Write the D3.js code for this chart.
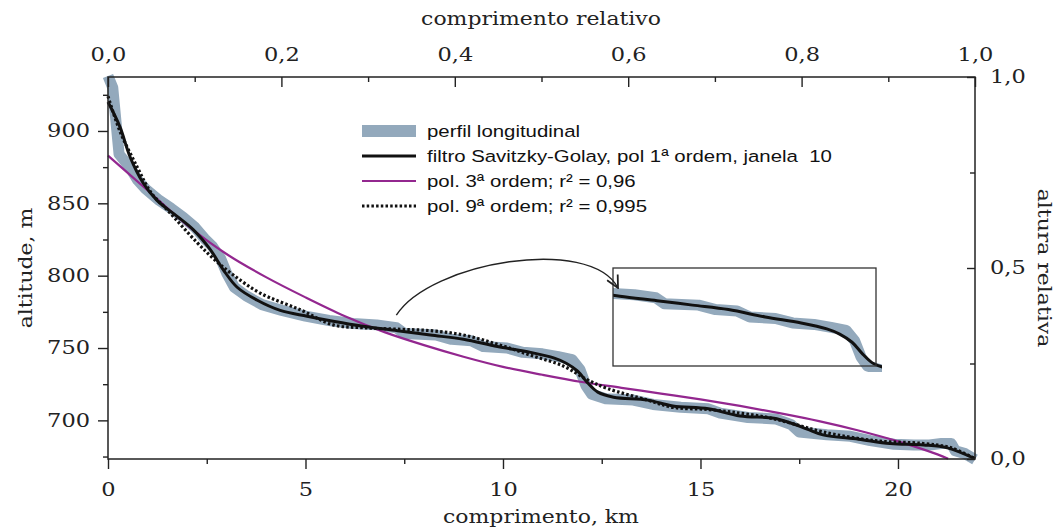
<!DOCTYPE html>
<html>
<head>
<meta charset="utf-8">
<script src="https://cdn.jsdelivr.net/npm/d3@7"></script>
<style>
  body { margin: 0; background: #fff; }
  .tick line { stroke: #222; stroke-width: 1.4; }
  .tick text { font-family: "DejaVu Serif", serif; font-size: 18px; fill: #222; }
  .title { font-family: "DejaVu Serif", serif; font-size: 18px; fill: #222; }
  .leg { font-family: "Liberation Sans", Arial, sans-serif; font-size: 17px; fill: #111; white-space: pre; }
</style>
</head>
<body>
<div id="vis"></div>
<script>
// values
// Savitzky-Golay filtered profile (km, m)
var sgKm  = [0, 0.3, 0.56, 0.89, 1.24, 1.75, 2.15, 2.59, 2.92, 3.27, 3.78, 4.36, 5.04, 5.7, 6.46, 7.33, 8.16, 9.0, 9.86, 10.7, 11.3, 11.6, 11.89, 12.14, 12.4, 12.8, 13.66, 14.3, 15.2, 16.0, 16.86, 17.3, 17.7, 18.1, 19.0, 19.8, 20.65, 21.25, 21.95];
var sgAlt = [920, 903, 882, 864, 852, 841, 832, 818, 804, 792, 783, 776, 772, 768.5, 765, 762, 759, 756, 751, 747, 743, 739.5, 734, 726, 719.5, 716, 714, 710, 708, 703, 701.5, 698, 694, 690, 687, 684, 683, 681, 673.5];

// raw longitudinal profile (stepped)
var profKm  = [0, 0.12, 0.28, 0.55, 0.75, 0.95, 1.3, 1.6, 1.9, 2.2, 2.45, 2.65, 2.85, 3.0, 3.2, 3.5, 3.9, 4.4, 5.0, 5.6, 6.2, 6.8, 7.3, 7.5, 8.3, 8.7, 9.2, 9.5, 10.1, 10.5, 11.0, 11.4, 11.75, 11.95, 12.1, 12.25, 12.6, 13.3, 13.8, 14.5, 15.2, 15.5, 16.2, 16.9, 17.3, 17.5, 18.2, 18.8, 19.3, 19.9, 20.4, 20.8, 21.1, 21.35, 21.45, 21.7, 21.95];
var profAlt = [938, 930, 884, 875, 866, 860, 852, 846.5, 840.5, 833.5, 825.5, 820, 812, 802, 792, 786, 780, 776, 772, 769, 767, 766, 764, 760, 759, 756, 755, 751, 750, 747, 746, 744, 742, 735, 724, 718, 715, 714, 711, 709, 708, 705, 702, 701, 697, 692, 690, 689, 686, 683.5, 683, 683, 684, 684, 679, 677, 673];

// 3rd order polynomial
var p3Km  = [0, 1, 2, 3, 4, 5, 6, 7, 8, 9, 10, 11, 12, 13, 14, 15, 16, 17, 18, 19, 20, 21, 21.27];
var p3Alt = [883, 859, 835, 815, 799, 785, 772, 761, 752, 744, 737, 731.5, 726.5, 722.5, 718.5, 714.5, 710, 705, 699.5, 693, 685.5, 676.5, 673.5];

// 9th order polynomial
var p9Km  = [0, 0.3, 0.74, 1.1, 1.5, 2.25, 2.7, 3.17, 3.85, 4.87, 5.7, 6.46, 7.33, 8.16, 9.0, 9.87, 10.7, 11.53, 12.14, 12.65, 13.66, 14.3, 15.2, 16.0, 16.7, 17.3, 18.1, 19.4, 20.65, 21.35, 21.95];
var p9Alt = [924, 900, 875, 857, 845.5, 823, 811, 800.5, 788, 776.4, 766, 764, 763, 762, 759, 752.5, 745, 737.5, 728, 722, 714, 709, 707.5, 705, 702, 698, 692, 686, 684, 681, 673.5];

var kmTicks  = [0, 5, 10, 15, 20];
var kmMinor  = [2.5, 7.5, 12.5, 17.5];
var altTicks = [700, 750, 800, 850, 900];
var altMinor = [675, 725, 775, 825, 875, 925];
var relTicks = [0, 0.2, 0.4, 0.6, 0.8, 1];
var relMinor = [0.1, 0.3, 0.5, 0.7, 0.9];
var hTicks   = [0, 0.5, 1];
var hMinor   = [0.25, 0.75];

var legendLabels = [
  "perfil longitudinal",
  "filtro Savitzky-Golay, pol 1ª ordem, janela  10",
  "pol. 3ª ordem; r² = 0,96",
  "pol. 9ª ordem; r² = 0,995"
];
var insetKm  = [6.3, 12.45];
var insetAlt = [718, 784];

var width = 1058;
var height = 530;
var margin = {top: 77, right: 83, bottom: 71, left: 108};

var bandColor = "#93a9bc";
var purple = "#93278f";

var svg = d3.select("#vis")
  .append("svg")
  .attr("width", width)
  .attr("height", height);

var x = d3.scaleLinear().domain([0, 21.95]).range([margin.left, width - margin.right]);
var y = d3.scaleLinear().domain([673.3, 937.3]).range([height - margin.bottom, margin.top]);
var xRel = d3.scaleLinear().domain([0, 1]).range([margin.left, width - margin.right]);
var yRel = d3.scaleLinear().domain([0, 1]).range([height - margin.bottom, margin.top]);

var comma = function(d) { return d3.format(".1f")(d).replace(".", ","); };
var zip = function(a, b) { return a.map(function(d, i) { return [d, b[i]]; }); };

// wider-looking lettering like the original
function stretch(sel, origin) {
  sel.style("transform-box", "fill-box")
    .style("transform-origin", origin)
    .style("transform", "scaleX(1.25)");
}

function lineFor(sx, sy, curve) {
  return d3.line().x(function(d) { return sx(d[0]); }).y(function(d) { return sy(d[1]); }).curve(curve);
}

var line = lineFor(x, y, d3.curveCatmullRom);
var stepLine = lineFor(x, y, d3.curveLinear);

// profile band
svg.append("path")
  .datum(zip(profKm, profAlt))
  .attr("d", stepLine)
  .attr("fill", "none")
  .attr("stroke", bandColor)
  .attr("stroke-width", 11)
  .attr("stroke-linejoin", "round");

svg.append("path")
  .datum(zip(p3Km, p3Alt))
  .attr("d", line)
  .attr("fill", "none")
  .attr("stroke", purple)
  .attr("stroke-width", 2.2);

svg.append("path")
  .datum(zip(p9Km, p9Alt))
  .attr("d", line)
  .attr("fill", "none")
  .attr("stroke", "#111")
  .attr("stroke-width", 3.2)
  .attr("stroke-dasharray", "2.5,2.2");

svg.append("path")
  .datum(zip(sgKm, sgAlt))
  .attr("d", line)
  .attr("fill", "none")
  .attr("stroke", "#111")
  .attr("stroke-width", 3);

// axes
function addAxis(axis, tx, ty, labels, origin) {
  var g = svg.append("g").attr("transform", "translate(" + tx + "," + ty + ")").call(axis);
  g.select(".domain").remove();
  if (!labels) g.selectAll("text").remove();
  else stretch(g.selectAll("text"), origin);
  return g;
}

var bottomY = height - margin.bottom;
var rightX = width - margin.right;

addAxis(d3.axisBottom(x).tickValues(kmTicks).tickSize(10).tickPadding(14).tickFormat(d3.format("d")), 0, bottomY, true, "center");
addAxis(d3.axisBottom(x).tickValues(kmMinor).tickSize(5), 0, bottomY, false);

addAxis(d3.axisLeft(y).tickValues(altTicks).tickSize(10).tickPadding(8).tickFormat(d3.format("d")), margin.left, 0, true, "right center");
addAxis(d3.axisLeft(y).tickValues(altMinor).tickSize(5), margin.left, 0, false);

addAxis(d3.axisTop(xRel).tickValues(relTicks).tickSize(-10).tickPadding(16).tickFormat(comma), 0, margin.top, true, "center");
addAxis(d3.axisTop(xRel).tickValues(relMinor).tickSize(-5), 0, margin.top, false);

addAxis(d3.axisRight(yRel).tickValues(hTicks).tickSize(-8).tickPadding(15).tickFormat(comma), rightX, 0, true, "left center");
addAxis(d3.axisRight(yRel).tickValues(hMinor).tickSize(-5), rightX, 0, false);

// frame
svg.append("rect")
  .attr("x", margin.left)
  .attr("y", margin.top)
  .attr("width", rightX - margin.left)
  .attr("height", bottomY - margin.top)
  .attr("fill", "none")
  .attr("stroke", "#222")
  .attr("stroke-width", 1.5);

// axis titles
function title(txt, tx, ty, rot) {
  svg.append("text")
    .attr("class", "title")
    .attr("text-anchor", "middle")
    .attr("transform", "translate(" + tx + "," + ty + ") rotate(" + rot + ") scale(1.22,1)")
    .text(txt);
}
title("comprimento relativo", 541, 25, 0);
title("comprimento, km", 541, 523, 0);
title("altitude, m", 32, 268, -90);
title("altura relativa", 1038, 268, 90);

// legend
var legRowY = [131, 156, 181, 206];
var leg = svg.append("g");
leg.append("rect")
  .attr("x", 362).attr("y", legRowY[0] - 6)
  .attr("width", 54).attr("height", 12)
  .attr("fill", bandColor);
var legStyles = [null, {c: "#111", w: 3, d: null}, {c: purple, w: 2.2, d: null}, {c: "#111", w: 3.2, d: "2.5,2.2"}];
legStyles.forEach(function(s, i) {
  if (!s) return;
  leg.append("line")
    .attr("x1", 362).attr("x2", 416)
    .attr("y1", legRowY[i]).attr("y2", legRowY[i])
    .attr("stroke", s.c).attr("stroke-width", s.w)
    .attr("stroke-dasharray", s.d);
});
legendLabels.forEach(function(t, i) {
  leg.append("text")
    .attr("class", "leg")
    .attr("transform", "translate(427," + legRowY[i] + ") scale(1.2,1)")
    .attr("dy", "0.35em")
    .text(t);
});

// inset with zoomed view
var box = {x0: 613, x1: 876, y0: 268, y1: 366};
var xi = d3.scaleLinear().domain(insetKm).range([box.x0, box.x1]);
var yi = d3.scaleLinear().domain(insetAlt).range([box.y1, box.y0]);

svg.append("clipPath").attr("id", "insetClip")
  .append("rect")
  .attr("x", box.x0).attr("y", box.y0)
  .attr("width", box.x1 - box.x0 + 6).attr("height", box.y1 - box.y0 + 6);

var inset = svg.append("g").attr("clip-path", "url(#insetClip)");
inset.append("path")
  .datum(zip(profKm, profAlt))
  .attr("d", lineFor(xi, yi, d3.curveLinear))
  .attr("fill", "none")
  .attr("stroke", bandColor)
  .attr("stroke-width", 11)
  .attr("stroke-linejoin", "round");
inset.append("path")
  .datum(zip(sgKm, sgAlt))
  .attr("d", lineFor(xi, yi, d3.curveCatmullRom))
  .attr("fill", "none")
  .attr("stroke", "#111")
  .attr("stroke-width", 3);

svg.append("rect")
  .attr("x", box.x0).attr("y", box.y0)
  .attr("width", box.x1 - box.x0).attr("height", box.y1 - box.y0)
  .attr("fill", "none")
  .attr("stroke", "#333")
  .attr("stroke-width", 1.3);

// arrow from the main curve to the inset
svg.append("defs").append("marker")
  .attr("id", "arrowHead")
  .attr("viewBox", "0 0 14 14")
  .attr("refX", 13).attr("refY", 7)
  .attr("markerWidth", 14).attr("markerHeight", 14)
  .attr("markerUnits", "userSpaceOnUse")
  .attr("orient", "auto")
  .append("path")
  .attr("d", "M1,1 L13,7 L1,13")
  .attr("fill", "none")
  .attr("stroke", "#222")
  .attr("stroke-width", 1.8);

var arc = d3.path();
arc.moveTo(x(7.3), y(763) - 14);
arc.bezierCurveTo(430, 262, 590, 235, 618, 288);
svg.append("path")
  .attr("d", arc.toString())
  .attr("fill", "none")
  .attr("stroke", "#222")
  .attr("stroke-width", 1.4)
  .attr("marker-end", "url(#arrowHead)");
</script>
</body>
</html>
